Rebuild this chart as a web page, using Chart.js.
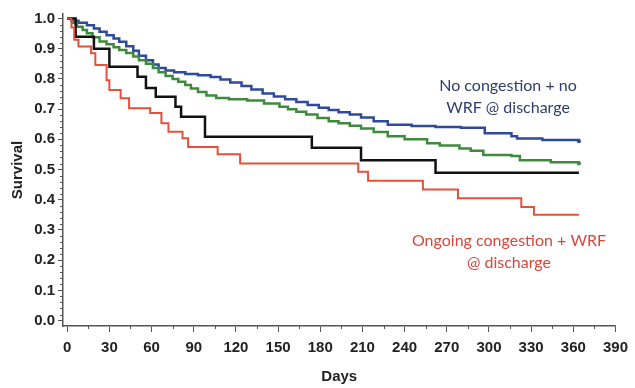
<!DOCTYPE html>
<html>
<head>
<meta charset="utf-8">
<script src="https://cdn.jsdelivr.net/npm/chart.js@4.4.1/dist/chart.umd.min.js"></script>
<style>
  body { margin: 0; background: #fff; }
</style>
</head>
<body>
<canvas id="survivalChart" width="635" height="388"></canvas>
<script>
// tick labels
const dayTicks = [0, 30, 60, 90, 120, 150, 180, 210, 240, 270, 300, 330, 360, 390];
const survTicks = [0.0, 0.1, 0.2, 0.3, 0.4, 0.5, 0.6, 0.7, 0.8, 0.9, 1.0];

// No congestion + no WRF @ discharge (blue)
const blueDays = [0, 3, 8, 14, 19, 23, 28, 33, 37, 42, 47, 51, 56, 61, 65, 70, 76, 84, 93, 102, 109, 116, 124, 131, 139, 147, 155, 163, 171, 179, 186, 193, 201, 209, 218, 228, 245, 262, 280, 297, 316, 320, 338, 364];
const blueSurv = [1.0, 0.993, 0.986, 0.978, 0.967, 0.956, 0.945, 0.934, 0.923, 0.908, 0.893, 0.877, 0.862, 0.848, 0.836, 0.828, 0.822, 0.816, 0.812, 0.806, 0.798, 0.788, 0.777, 0.765, 0.752, 0.742, 0.733, 0.724, 0.714, 0.705, 0.697, 0.690, 0.682, 0.672, 0.660, 0.648, 0.644, 0.641, 0.638, 0.620, 0.610, 0.603, 0.598, 0.594];

// green group
const greenDays = [0, 4, 7, 11, 14, 18, 23, 28, 33, 37, 42, 47, 51, 56, 61, 65, 70, 75, 79, 84, 88, 93, 99, 106, 115, 128, 140, 151, 157, 163, 170, 178, 186, 193, 201, 209, 218, 228, 240, 256, 265, 279, 287, 296, 316, 322, 344, 364];
const greenSurv = [1.0, 0.985, 0.973, 0.962, 0.951, 0.938, 0.924, 0.915, 0.905, 0.896, 0.886, 0.874, 0.862, 0.850, 0.836, 0.822, 0.810, 0.800, 0.791, 0.780, 0.768, 0.757, 0.745, 0.737, 0.733, 0.729, 0.719, 0.708, 0.700, 0.691, 0.682, 0.671, 0.660, 0.653, 0.645, 0.636, 0.624, 0.610, 0.600, 0.587, 0.580, 0.570, 0.562, 0.548, 0.545, 0.531, 0.524, 0.520];

// black group
const blackDays = [0, 6, 19, 30, 50, 56, 63, 77, 81, 98, 174, 209, 262, 364];
const blackSurv = [1.0, 0.94, 0.90, 0.84, 0.807, 0.770, 0.741, 0.708, 0.675, 0.609, 0.572, 0.531, 0.489, 0.489];

// Ongoing congestion + WRF @ discharge (red)
const redDays = [0, 3, 5, 8, 17, 20, 28, 30, 38, 44, 59, 67, 72, 82, 86, 107, 123, 207, 214, 253, 278, 323, 332, 364];
const redSurv = [1.0, 0.97, 0.93, 0.907, 0.885, 0.846, 0.796, 0.763, 0.736, 0.703, 0.687, 0.653, 0.625, 0.604, 0.575, 0.551, 0.52, 0.493, 0.463, 0.434, 0.405, 0.376, 0.350, 0.350];

function toPoints(days, surv) {
    return days.map((d, i) => ({ x: d, y: surv[i] }));
}

const endDot = (c) => c.dataIndex === c.dataset.data.length - 1 ? 2 : 0;

const tickFont = { family: 'Liberation Sans', size: 15, weight: 'bold' };

// small ticks between the labelled ones
const minorTicks = {
    id: 'minorTicks',
    afterDraw(chart) {
        const ctx = chart.ctx;
        const xs = chart.scales.x;
        const ys = chart.scales.y;
        ctx.save();
        ctx.strokeStyle = '#555';
        ctx.lineWidth = 1;
        ctx.beginPath();
        for (let d = 15; d < 390; d += 30) {
            const px = Math.round(xs.getPixelForValue(d)) + 0.5;
            ctx.moveTo(px, xs.top);
            ctx.lineTo(px, xs.top + 3);
        }
        for (let i = 1; i < 50; i++) {
            if (i % 5 === 0) continue;
            const py = Math.round(ys.getPixelForValue(i * 0.02)) + 0.5;
            ctx.moveTo(ys.right - 3, py);
            ctx.lineTo(ys.right, py);
        }
        ctx.stroke();
        ctx.restore();
    }
};

// group labels
const groupLabels = {
    id: 'groupLabels',
    afterDraw(chart) {
        const ctx = chart.ctx;
        ctx.save();
        ctx.font = '16px Lato';
        ctx.textAlign = 'center';
        ctx.textBaseline = 'middle';
        ctx.fillStyle = '#2f3e6e';
        ctx.fillText('No congestion + no', 508, 86);
        ctx.fillText('WRF @ discharge', 508, 108);
        ctx.fillStyle = '#d9473b';
        ctx.fillText('Ongoing congestion + WRF', 509, 241);
        ctx.fillText('@ discharge', 509, 263);
        ctx.restore();
    }
};

const survivalChart = new Chart(
    document.getElementById('survivalChart'),
    {
        type: 'line',
        data: {
            datasets: [
                {
                    label: 'Ongoing congestion + WRF @ discharge',
                    data: toPoints(redDays, redSurv),
                    borderColor: '#e5503a',
                    borderWidth: 2,
                    pointRadius: 0,
                },
                {
                    label: 'Black',
                    data: toPoints(blackDays, blackSurv),
                    borderColor: '#111111',
                    borderWidth: 2.5,
                    pointRadius: 0,
                },
                {
                    label: 'Green',
                    data: toPoints(greenDays, greenSurv),
                    borderColor: '#3f8a3c',
                    backgroundColor: '#3f8a3c',
                    borderWidth: 2.5,
                    pointRadius: endDot,
                },
                {
                    label: 'No congestion + no WRF @ discharge',
                    data: toPoints(blueDays, blueSurv),
                    borderColor: '#2f4a9c',
                    backgroundColor: '#2f4a9c',
                    borderWidth: 2.5,
                    pointRadius: endDot,
                },
            ]
        },
        options: {
            responsive: false,
            animation: false,
            datasets: {
                line: { stepped: 'before', fill: false, pointBorderWidth: 0 }
            },
            layout: {
                padding: { top: 14, right: 9, left: 0, bottom: 0 }
            },
            plugins: {
                legend: { display: false },
                tooltip: { enabled: false }
            },
            scales: {
                x: {
                    type: 'linear',
                    min: -3,
                    max: 390,
                    afterBuildTicks: (s) => { s.ticks = dayTicks.map(v => ({ value: v })); },
                    afterFit: (s) => { s.height = 62; },
                    ticks: {
                        font: tickFont,
                        color: '#222',
                        padding: 7,
                        maxRotation: 0,
                        autoSkip: false
                    },
                    grid: {
                        drawOnChartArea: false,
                        tickLength: 6,
                        color: '#555'
                    },
                    border: { display: true, color: '#555', width: 1.5 },
                    title: {
                        display: true,
                        text: 'Days',
                        color: '#222',
                        font: tickFont,
                        padding: { top: 0, bottom: 2 }
                    }
                },
                y: {
                    type: 'linear',
                    min: -0.018,
                    max: 1.015,
                    afterBuildTicks: (s) => { s.ticks = survTicks.map(v => ({ value: v })); },
                    afterFit: (s) => { s.width = 63; },
                    ticks: {
                        font: tickFont,
                        color: '#222',
                        padding: 3,
                        callback: (v) => Number(v).toFixed(1)
                    },
                    grid: {
                        drawOnChartArea: false,
                        tickLength: 5,
                        color: '#555'
                    },
                    border: { display: true, color: '#555', width: 1.5 },
                    title: {
                        display: true,
                        text: 'Survival',
                        color: '#222',
                        font: tickFont,
                        padding: { top: 9, bottom: 0 }
                    }
                }
            }
        },
        plugins: [minorTicks, groupLabels]
    }
);
</script>
</body>
</html>
